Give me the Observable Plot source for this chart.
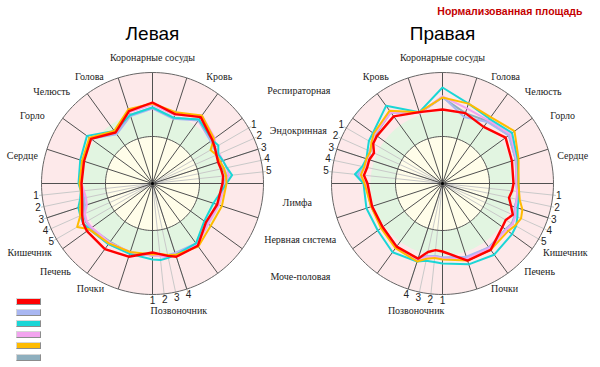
<!DOCTYPE html>
<html><head><meta charset="utf-8">
<script src="https://cdn.jsdelivr.net/npm/d3@7"></script>
<script src="https://cdn.jsdelivr.net/npm/@observablehq/plot@0.6"></script>
<style>
body{margin:0;background:#fff;}
#wrap{position:relative;width:600px;height:367px;overflow:hidden;}
#legend{position:absolute;left:16px;top:298px;width:30px;height:70px;}
.sw{position:absolute;left:0;width:23px;height:5px;border:1px solid;border-color:#d6d6d6 #8c8c8c #8c8c8c #d6d6d6;}
</style></head><body><div id="wrap"><div id="legend"></div></div>
<script>
// ---------- DATA ----------
const sides = ["Левая", "Правая"];
const seriesNames = ["Серия 1", "Серия 2", "Серия 3", "Серия 4", "Серия 5", "Серия 6"];
const seriesColors = ["#ff0000", "#a9b7f2", "#1ad6d6", "#f2a4ef", "#ffbb00", "#8eafbe"];

const categories = ["Коронарные сосуды","Кровь","Респираторная","Эндокринная","Лимфа","Нервная система","Моче-половая","Позвоночник","Почки","Печень","Кишечник","Сердце","Горло","Челюсть","Голова"];
// labels in the gap between the two charts, shared by both
const sharedCategories = ["Респираторная","Эндокринная","Лимфа","Нервная система","Моче-половая"];

// sub-axes (numbered 1..n) of three categories, angle in degrees clockwise from top (left chart)
const subTickLabels = ["1","2","3","4","5"];
const endocrineAngles = [60, 66, 72, 78, 84];
const spineAngles = [180, 174, 168, 162];
const intestineAngles = [264, 258, 252, 246, 240];

// radial grid levels (value units)
const ringLevels = [47, 72, 111];

// axis angles of the polygon vertices
const leftAngles  = [0,18,36,54,60,66,72,78,84,90,108,126,144,162,168,174,180,198,216,234,240,246,252,258,264,270,288,306,324,342];
const rightAngles = [0,18,36,54,72,90,96,102,108,114,120,126,144,162,180,186,192,198,216,234,252,270,276,282,288,294,300,306,324,342];

// series values, left chart
const leftS1 = [81,73,82,74,72,70,69,70,71,70,68,66,77,77,74,71,69,77,81,81,80,77,74,72,71,71,72,76,63,76];
const leftS2 = [75,68,78,72,71,72,71,73,75,72,69,68,74,73,73,72,72,73,75,77,76,75,71,70,70,71,73,76,61,71];
const leftS3 = [76,69,79,74,76,72,74,76,80,74,64,64,74,75,76,77,76,74,75,78,80,79,78,74,72,74,76,81,65,72];
const leftS4 = [79,72,84,77,72,73,74,76,77,73,70,69,76,74,76,73,72,72,73,75,76,74,69,68,69,71,73,77,63,75];
const leftS5 = [80,75,84,76,67,70,71,73,74,74,73,72,78,75,73,71,71,72,74,78,87,79,76,73,72,73,74,78,65,78];
const leftS6 = [76,69,79,73,71,71,71,72,74,72,69,68,75,74,74,72,72,73,72,76,77,75,72,71,71,72,73,77,62,72];
// series values, right chart
const rightS1 = [74,74,70,78,73,71,70,68,72,77,73,74,82,81,68,67,70,79,78,74,74,75,79,77,77,75,80,81,83,75];
const rightS2 = [87,70,76,82,77,74,75,76,76,79,81,78,79,77,74,73,74,80,78,74,75,77,86,79,78,79,80,84,88,74];
const rightS3 = [96,84,80,86,79,76,77,78,79,82,85,86,88,85,80,79,79,82,85,80,80,79,88,82,80,82,85,86,96,75];
const rightS4 = [87,79,78,84,78,74,75,76,77,80,81,79,80,79,75,74,75,81,79,75,74,77,83,79,78,80,81,84,88,74];
const rightS5 = [86,84,82,89,80,76,77,79,84,86,84,81,82,81,76,75,77,82,80,76,75,78,82,80,80,79,82,85,90,75];
const rightS6 = [86,74,77,82,77,74,75,76,76,79,80,78,79,78,74,73,74,80,78,74,75,77,84,79,78,79,80,83,88,74];

// ---------- LAYOUT (label placement, left chart; right chart mirrored) ----------
const labelAngle = [0, 32, 57.7, 70.2, 97.4, 110.8, 122.3, 168.3, 210.6, 227.8, 240.6, 281.9, 299.5, 312.2, 329.4];
const labelDist  = [126, 126, 173, 155, 146, 158, 175, 130, 122, 131, 141, 133, 138, 136, 124];

// ---------- BUILD ----------
const toRad = a => a * Math.PI / 180;
const PX = (a, r) => r * Math.sin(toRad(a));
const PY = (a, r) => r * Math.cos(toRad(a));
const mir = (side, a) => side === sides[1] ? (360 - a) % 360 : a;
const outer = ringLevels[2];

const leftValues = [leftS1, leftS2, leftS3, leftS4, leftS5, leftS6];
const rightValues = [rightS1, rightS2, rightS3, rightS4, rightS5, rightS6];

const seriesData = [];
sides.forEach((side, si) => {
  const angles = si === 0 ? leftAngles : rightAngles;
  const vals = si === 0 ? leftValues : rightValues;
  vals.forEach((arr, k) => arr.forEach((v, i) => seriesData.push({side, series: k, angle: angles[i], value: v})));
});

const circlePts = r => d3.range(0, 360, 2).map(a => ({a, r}));
const spokes = d3.range(0, 360, 18);

const subSpokes = [];
sides.forEach(side => {
  [endocrineAngles, spineAngles, intestineAngles].forEach(g => g.forEach((a, i) =>
    subSpokes.push({side, angle: mir(side, a), label: subTickLabels[i]})));
});

const labels = [];
sides.forEach((side, si) => categories.forEach((c, i) => {
  if (si === 1 && sharedCategories.includes(c)) return; // drawn once, shared
  labels.push({side, text: c, angle: mir(side, labelAngle[i]), dist: labelDist[i]});
}));

const drawOrder = [5, 1, 3, 2, 4, 0];

const ringMark = (r, fill) => Plot.line(circlePts(r), {x: d => PX(d.a, d.r), y: d => PY(d.a, d.r), curve: "linear-closed", fill, stroke: "none"});
const ringLine = (r, stroke) => Plot.line(circlePts(r), {x: d => PX(d.a, d.r), y: d => PY(d.a, d.r), curve: "linear-closed", fill: "none", stroke, strokeWidth: 1});

const plot = Plot.plot({
  width: 600, height: 367,
  marginTop: 43, marginBottom: 44, marginLeft: 12, marginRight: 18,
  fx: {domain: sides, paddingInner: 10 / 290, paddingOuter: 0, axis: null},
  x: {domain: [-140, 140], axis: null},
  y: {domain: [-140, 140], axis: null},
  style: {background: "white", overflow: "visible"},
  marks: [
    ringMark(ringLevels[2], "#fde9ea"),
    ringMark(ringLevels[1], "#e2f5e1"),
    ringMark(ringLevels[0], "#fffde9"),
    Plot.link(subSpokes, {fx: "side", x1: () => 0, y1: () => 0, x2: d => PX(d.angle, outer + 3), y2: d => PY(d.angle, outer + 3), stroke: "#c9c9c9", strokeWidth: 1}),
    Plot.link(spokes, {x1: () => 0, y1: () => 0, x2: a => PX(a, outer), y2: a => PY(a, outer), stroke: "#505050", strokeWidth: 1}),
    ringLine(ringLevels[0], "#555"),
    ringLine(ringLevels[2], "#666"),
    ...drawOrder.map(k => Plot.line(seriesData.filter(d => d.series === k), {
      fx: "side", x: d => PX(d.angle, d.value), y: d => PY(d.angle, d.value),
      curve: "linear-closed", stroke: seriesColors[k], strokeWidth: k === 0 ? 2.4 : 2, strokeLinejoin: "round"
    })),
    Plot.dot(sides, {fx: d => d, x: () => 0, y: () => 0, r: 1.5, fill: "#000"}),
    Plot.text(subSpokes, {fx: "side", x: d => PX(d.angle, outer + 6), y: d => PY(d.angle, outer + 6), text: "label", fontSize: 10, fontFamily: "Liberation Sans, Arial, sans-serif", fill: "#222"}),
    Plot.text(labels, {fx: "side", x: d => PX(d.angle, d.dist), y: d => PY(d.angle, d.dist), text: "text", fontSize: 10, fontFamily: "Liberation Serif, Times New Roman, serif", fill: "#222"}),
    Plot.text(sides, {fx: d => d, text: d => d, frameAnchor: "top", lineAnchor: "bottom", dy: -4, fontSize: 19, fontFamily: "Liberation Sans, Arial, sans-serif", fill: "#000"}),
    Plot.text([sides[1]], {fx: d => d, text: () => "Нормализованная площадь", frameAnchor: "top-right", textAnchor: "end", lineAnchor: "bottom", dy: -29, fontSize: 10.5, fontWeight: "bold", fontFamily: "Liberation Sans, Arial, sans-serif", fill: "#c40000"})
  ]
});
const wrap = document.getElementById("wrap");
wrap.insertBefore(plot, wrap.firstChild);

const legend = document.getElementById("legend");
seriesColors.forEach((c, i) => {
  const s = document.createElement("div");
  s.className = "sw";
  s.title = seriesNames[i];
  s.style.top = (i * 11.1) + "px";
  s.style.background = c;
  legend.appendChild(s);
});
</script>
</body></html>
